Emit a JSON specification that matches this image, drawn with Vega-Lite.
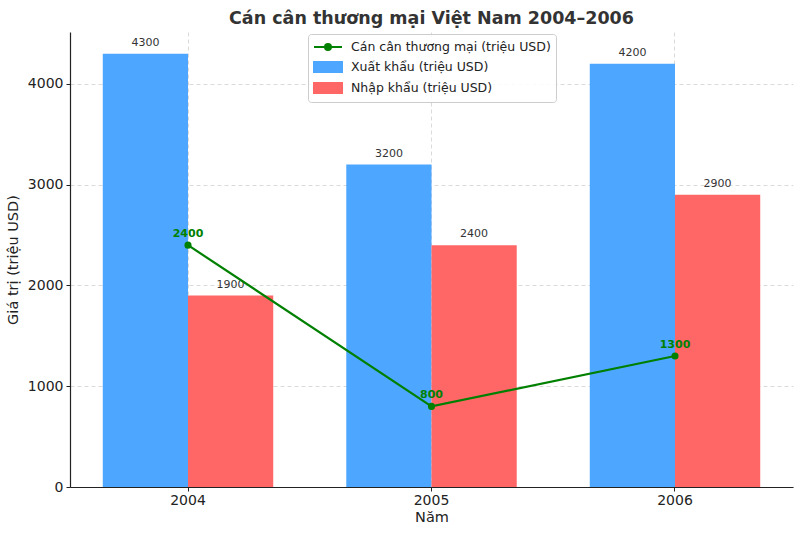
{
  "$schema": "https://vega.github.io/schema/vega-lite/v6.json",
  "width": 723,
  "height": 455,
  "autosize": "none",
  "padding": {"left": 70, "top": 32, "right": 7, "bottom": 46},
  "background": "white",
  "title": {"text": "Cán cân thương mại Việt Nam 2004–2006", "fontSize": 17.5, "fontWeight": "bold", "font": "DejaVu Sans", "color": "#333333", "offset": 5, "anchor": "middle"},
  "config": {
    "view": {"stroke": null},
    "font": "DejaVu Sans",
    "axis": {"domainColor": "#222222", "domainWidth": 1.2, "tickColor": "#222222", "tickSize": 4, "labelColor": "#222222", "labelFontSize": 14, "titleFontSize": 14.5, "titleFontWeight": "normal", "titleColor": "#222222", "gridColor": "#d0d0d0", "gridDash": [4, 3], "gridWidth": 0.8}
  },
  "datasets": {
    "trade": [
      {"year": "2004", "series": "Xuất khẩu (triệu USD)", "value": 4300},
      {"year": "2004", "series": "Nhập khẩu (triệu USD)", "value": 1900},
      {"year": "2005", "series": "Xuất khẩu (triệu USD)", "value": 3200},
      {"year": "2005", "series": "Nhập khẩu (triệu USD)", "value": 2400},
      {"year": "2006", "series": "Xuất khẩu (triệu USD)", "value": 4200},
      {"year": "2006", "series": "Nhập khẩu (triệu USD)", "value": 2900}
    ],
    "balance": [
      {"year": "2004", "value": 2400},
      {"year": "2005", "value": 800},
      {"year": "2006", "value": 1300}
    ]
  },
  "layer": [
    {
      "data": {"name": "trade"},
      "mark": {"type": "bar"},
      "encoding": {
        "x": {"field": "year", "type": "nominal", "scale": {"paddingInner": 0.3, "paddingOuter": 0.1346}, "axis": {"title": "Năm", "labelAngle": 0, "grid": true, "bandPosition": 0.5, "labelPadding": 2, "titlePadding": 3}},
        "xOffset": {"field": "series", "type": "nominal", "sort": ["Xuất khẩu (triệu USD)", "Nhập khẩu (triệu USD)"], "scale": {"paddingInner": 0, "paddingOuter": 0}},
        "y": {"field": "value", "type": "quantitative", "scale": {"domain": [0, 4515], "nice": false, "zero": true}, "axis": {"title": "Giá trị (triệu USD)", "format": "d", "values": [0, 1000, 2000, 3000, 4000], "grid": true, "labelPadding": 3, "titlePadding": 7}},
        "color": {
          "field": "series", "type": "nominal",
          "scale": {"domain": ["Cán cân thương mại (triệu USD)", "Xuất khẩu (triệu USD)", "Nhập khẩu (triệu USD)"], "range": ["green", "#4da6ff", "#ff6666"]},
          "legend": {
            "title": null, "orient": "none", "legendX": 238, "legendY": 2,
            "fillColor": "rgba(255,255,255,0.85)", "strokeColor": "#cccccc", "cornerRadius": 3, "padding": 5,
            "labelFontSize": 12.5, "labelLimit": 400, "labelColor": "#222222", "symbolSize": 196, "labelOffset": 22, "rowPadding": 3,
            "encode": {
              "symbols": {"update": {
                "shape": {"signal": "datum.index === 0 ? 'M-1,0H3M1.43,0A0.43,0.43 0 1,1 0.57,0A0.43,0.43 0 1,1 1.43,0Z' : 'M-1,-0.7H3V0.7H-1Z'"},
                "fill": {"signal": "scale('color', datum.value)"},
                "stroke": {"signal": "datum.index === 0 ? 'green' : 'transparent'"},
                "strokeWidth": {"value": 2},
                "opacity": {"value": 1}
              }}
            }
          }
        }
      }
    },
    {
      "data": {"name": "trade"},
      "mark": {"type": "text", "baseline": "bottom", "dy": -6, "fontSize": 11, "color": "#333333"},
      "encoding": {
        "x": {"field": "year", "type": "nominal"},
        "xOffset": {"field": "series", "type": "nominal", "sort": ["Xuất khẩu (triệu USD)", "Nhập khẩu (triệu USD)"]},
        "y": {"field": "value", "type": "quantitative"},
        "text": {"field": "value", "type": "quantitative"}
      }
    },
    {
      "data": {"name": "balance"},
      "mark": {"type": "line", "strokeWidth": 2.2, "point": {"filled": true, "size": 50, "color": "green"}},
      "encoding": {
        "x": {"field": "year", "type": "nominal"},
        "y": {"field": "value", "type": "quantitative"},
        "color": {"datum": "Cán cân thương mại (triệu USD)"}
      }
    },
    {
      "data": {"name": "balance"},
      "mark": {"type": "text", "baseline": "bottom", "dy": -6, "fontSize": 11, "fontWeight": "bold", "color": "green"},
      "encoding": {
        "x": {"field": "year", "type": "nominal"},
        "y": {"field": "value", "type": "quantitative"},
        "text": {"field": "value", "type": "quantitative"}
      }
    }
  ]
}
